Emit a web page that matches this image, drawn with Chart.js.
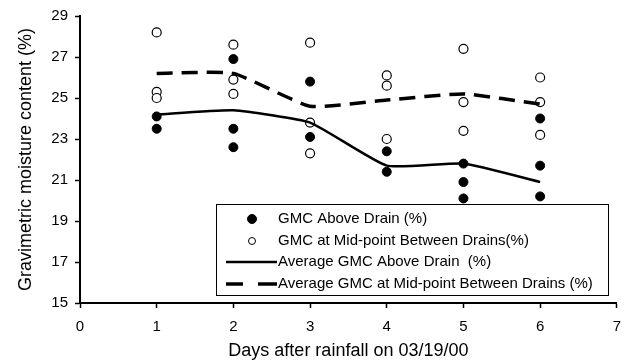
<!DOCTYPE html>
<html>
<head>
<meta charset="utf-8">
<script src="https://cdn.jsdelivr.net/npm/chart.js@4.4.1/dist/chart.umd.min.js"></script>
<style>
  html, body { margin: 0; padding: 0; background: #fff; }
  canvas { display: block; }
</style>
</head>
<body>
<canvas id="chart" width="631" height="360"></canvas>
<script>
// Days after rainfall, and the readings taken on each day
const days = [1, 2, 3, 4, 5, 6];
const gmcAboveDrain = [
    [24.1, 23.5],
    [26.9, 23.5, 22.6],
    [25.8, 23.1],
    [22.4, 21.4],
    [21.8, 20.9, 20.1],
    [24.0, 21.7, 20.2]
];
const gmcMidpoint = [
    [28.2, 25.3, 25.0],
    [27.6, 25.9, 25.2],
    [27.7, 23.8, 22.3],
    [26.1, 25.6, 23.0],
    [27.4, 24.8, 23.4],
    [26.0, 24.8, 23.2]
];
const avgAboveDrain = [24.2, 24.4, 23.8, 21.7, 21.8, 20.9];
const avgMidpoint = [26.2, 26.2, 24.6, 24.9, 25.2, 24.7];

const xTicks = [0, 1, 2, 3, 4, 5, 6, 7];
const yTicks = [15, 17, 19, 21, 23, 25, 27, 29];

const FONT = '"Liberation Sans", Arial, sans-serif';

function toPoints(obs) {
    return obs.flatMap((vals, i) => vals.map(v => ({ x: days[i], y: v })));
}

function toLine(vals) {
    return vals.map((v, i) => ({ x: days[i], y: v }));
}

// Legend drawn as a boxed panel inside the plot, like the original
const legendOrder = [
    'GMC Above Drain (%)',
    'GMC at Mid-point Between Drains(%)',
    'Average GMC Above Drain  (%)',
    'Average GMC at Mid-point Between Drains (%)'
];

const boxLegend = {
    id: 'boxLegend',
    afterDatasetsDraw(chart) {
        const ctx = chart.ctx;
        const box = { left: 216, top: 204, width: 392, height: 91 };
        const rowY = [219, 241, 262, 284];
        ctx.save();
        ctx.fillStyle = '#fff';
        ctx.fillRect(box.left, box.top, box.width, box.height);
        ctx.strokeStyle = '#000';
        ctx.lineWidth = 1;
        ctx.strokeRect(box.left + 0.5, box.top + 0.5, box.width, box.height);
        ctx.font = '15px ' + FONT;
        ctx.textBaseline = 'middle';

        legendOrder.forEach((label, i) => {
            const ds = chart.data.datasets.find(d => d.label === label);
            const y = rowY[i];
            ctx.strokeStyle = '#000';
            if (ds.showLine) {
                ctx.lineWidth = ds.borderWidth;
                ctx.beginPath();
                if (ds.borderDash) {
                    ctx.moveTo(226, y); ctx.lineTo(243, y);
                    ctx.moveTo(258, y); ctx.lineTo(277, y);
                } else {
                    ctx.moveTo(226, y); ctx.lineTo(277, y);
                }
                ctx.stroke();
            } else {
                ctx.beginPath();
                ctx.arc(252, y, ds.backgroundColor === '#000' ? 4.5 : 3.5, 0, Math.PI * 2);
                ctx.fillStyle = ds.backgroundColor;
                ctx.fill();
                ctx.lineWidth = 1;
                ctx.stroke();
            }
            ctx.fillStyle = '#000';
            ctx.fillText(label, 278, y);
        });
        ctx.restore();
    }
};

const axisGrid = {
    drawOnChartArea: false,
    drawTicks: true,
    tickLength: 5,
    tickColor: '#000',
    tickWidth: 1.5
};

new Chart(document.getElementById('chart').getContext('2d'), {
    type: 'scatter',
    data: {
        datasets: [
            {
                label: legendOrder[3],
                data: toLine(avgMidpoint),
                showLine: true,
                borderColor: '#000',
                borderWidth: 3.5,
                borderDash: [16, 9],
                pointRadius: 0,
                tension: 0.15,
                order: 0
            },
            {
                label: legendOrder[2],
                data: toLine(avgAboveDrain),
                showLine: true,
                borderColor: '#000',
                borderWidth: 2.5,
                pointRadius: 0,
                tension: 0.15,
                order: 1
            },
            {
                label: legendOrder[1],
                data: toPoints(gmcMidpoint),
                showLine: false,
                backgroundColor: '#fff',
                borderColor: '#000',
                borderWidth: 1.2,
                pointRadius: 4.5,
                order: 2
            },
            {
                label: legendOrder[0],
                data: toPoints(gmcAboveDrain),
                showLine: false,
                backgroundColor: '#000',
                borderColor: '#000',
                borderWidth: 1,
                pointRadius: 4.5,
                order: 3
            }
        ]
    },
    options: {
        responsive: false,
        animation: false,
        layout: { padding: { top: 16, right: 5, left: 0, bottom: 0 } },
        plugins: {
            legend: { display: false },
            tooltip: { enabled: false }
        },
        scales: {
            x: {
                type: 'linear',
                min: 0,
                max: 7,
                afterBuildTicks: s => { s.ticks = xTicks.map(v => ({ value: v })); },
                afterFit: s => { s.height = 57; },
                grid: axisGrid,
                border: { display: true, color: '#000', width: 2 },
                ticks: { color: '#000', padding: 10, font: { family: FONT, size: 15 } },
                title: {
                    display: true,
                    text: 'Days after rainfall on 03/19/00',
                    color: '#000',
                    font: { family: FONT, size: 18, lineHeight: 1 },
                    padding: { top: 0, bottom: 0 }
                }
            },
            y: {
                min: 15,
                max: 29,
                afterBuildTicks: s => { s.ticks = yTicks.map(v => ({ value: v })); },
                afterFit: s => { s.width = 80; },
                grid: axisGrid,
                border: { display: true, color: '#000', width: 2 },
                ticks: { color: '#000', padding: 7, font: { family: FONT, size: 15 } },
                title: {
                    display: true,
                    text: 'Gravimetric moisture content (%)',
                    color: '#000',
                    font: { family: FONT, size: 18, lineHeight: 1.2 },
                    padding: { top: 15, bottom: 0 }
                }
            }
        }
    },
    plugins: [boxLegend]
});
</script>
</body>
</html>
